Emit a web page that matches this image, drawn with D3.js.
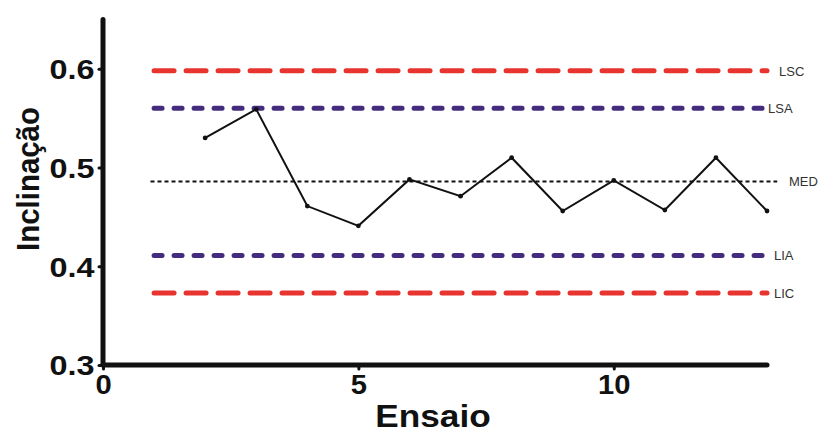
<!DOCTYPE html>
<html>
<head>
<meta charset="utf-8">
<script src="https://cdn.jsdelivr.net/npm/d3@7"></script>
<style>
  html, body { margin: 0; padding: 0; background: #fff; }
  svg { display: block; }
  .tick text { font-family: "Liberation Sans", Arial, sans-serif; font-weight: bold; }
</style>
</head>
<body>
<svg id="chart" width="821" height="434"></svg>
<script>
// Slope per trial (ensaio)
const ensaio = [2, 3, 4, 5, 6, 7, 8, 9, 10, 11, 12, 13];
const inclinacao = [0.530, 0.559, 0.461, 0.441, 0.488, 0.471, 0.510, 0.456, 0.487, 0.457, 0.510, 0.456];

// Control and warning limits
const limitNames = ["LSC", "LSA", "MED", "LIA", "LIC"];
const limitValues = [0.598, 0.560, 0.486, 0.411, 0.373];

const xTicks = [0, 5, 10];
const yTicks = [0.3, 0.4, 0.5, 0.6];

const svg = d3.select("#chart");

const x = d3.scaleLinear().domain([0, 13]).range([103, 767]);
const y = d3.scaleLinear().domain([0.3, 0.65]).range([365, 19.5]);

// line styles for each limit
const limitStyle = {
  LSC: { color: "#e8332f", width: 5, dash: "20,12", cap: "round", x1: 1, x2: 13, lx: 779 },
  LSA: { color: "#432c7e", width: 5, dash: "8,12", cap: "round", x1: 1, x2: 13, lx: 768 },
  MED: { color: "#111", width: 2, dash: "4,3", cap: "butt", x1: 0.93, x2: 13.2, lx: 789 },
  LIA: { color: "#432c7e", width: 5, dash: "8,12", cap: "round", x1: 1, x2: 13, lx: 774 },
  LIC: { color: "#e8332f", width: 5, dash: "20,12", cap: "round", x1: 1, x2: 13, lx: 774 }
};

const limits = limitNames.map((n, i) => ({ name: n, value: limitValues[i] }));

svg.append("g").selectAll("line")
  .data(limits)
  .join("line")
  .attr("x1", d => x(limitStyle[d.name].x1))
  .attr("x2", d => x(limitStyle[d.name].x2))
  .attr("y1", d => y(d.value))
  .attr("y2", d => y(d.value))
  .attr("stroke", d => limitStyle[d.name].color)
  .attr("stroke-width", d => limitStyle[d.name].width)
  .attr("stroke-dasharray", d => limitStyle[d.name].dash)
  .attr("stroke-linecap", d => limitStyle[d.name].cap);

svg.append("g").selectAll("text")
  .data(limits)
  .join("text")
  .attr("x", d => limitStyle[d.name].lx)
  .attr("y", d => y(d.value))
  .attr("dy", "0.36em")
  .attr("font-family", "Liberation Sans, Arial, sans-serif")
  .attr("font-size", 13)
  .attr("fill", "#333")
  .text(d => d.name);

// data series
const pts = ensaio.map((e, i) => [e, inclinacao[i]]);
svg.append("path")
  .datum(pts)
  .attr("fill", "none")
  .attr("stroke", "#111")
  .attr("stroke-width", 2)
  .attr("d", d3.line().x(d => x(d[0])).y(d => y(d[1])));

svg.append("g").selectAll("circle")
  .data(pts)
  .join("circle")
  .attr("cx", d => x(d[0]))
  .attr("cy", d => y(d[1]))
  .attr("r", 2.4)
  .attr("fill", "#111");

// axes
const xAxis = svg.append("g")
  .attr("transform", `translate(0,${y(0.3)})`)
  .call(d3.axisBottom(x).tickValues(xTicks).tickFormat(d3.format("d")).tickSize(4).tickPadding(6));
const yAxis = svg.append("g")
  .attr("transform", `translate(${x(0)},0)`)
  .call(d3.axisLeft(y).tickValues(yTicks).tickFormat(d3.format(".1f")).tickSize(4).tickPadding(4));

[xAxis, yAxis].forEach(g => {
  g.select(".domain").remove();
  g.selectAll(".tick line").attr("stroke", "#111").attr("stroke-width", 3).attr("stroke-linecap", "round");
  g.selectAll(".tick text").attr("fill", "#111").attr("font-size", 27);
});
// slightly wider numerals
xAxis.selectAll(".tick text").attr("transform", "scale(1.08,1)");
yAxis.selectAll(".tick text").attr("dy", "0.36em").attr("x", -7).attr("transform", "scale(1.2,1)");

svg.append("line")
  .attr("x1", x(0)).attr("x2", x(0))
  .attr("y1", y(0.3)).attr("y2", y(0.65))
  .attr("stroke", "#111").attr("stroke-width", 5).attr("stroke-linecap", "round");
svg.append("line")
  .attr("x1", x(0)).attr("x2", x(13))
  .attr("y1", y(0.3)).attr("y2", y(0.3))
  .attr("stroke", "#111").attr("stroke-width", 5).attr("stroke-linecap", "round");

// axis titles
svg.append("text")
  .attr("transform", "translate(433,427) scale(1.1,1)")
  .attr("text-anchor", "middle")
  .attr("font-family", "Liberation Sans, Arial, sans-serif")
  .attr("font-weight", "bold")
  .attr("font-size", 32)
  .attr("fill", "#111")
  .text("Ensaio");

svg.append("text")
  .attr("transform", "translate(39,179) rotate(-90) scale(0.92,1)")
  .attr("text-anchor", "middle")
  .attr("font-family", "Liberation Sans, Arial, sans-serif")
  .attr("font-weight", "bold")
  .attr("font-size", 32)
  .attr("fill", "#111")
  .text("Inclinação");
</script>
</body>
</html>
